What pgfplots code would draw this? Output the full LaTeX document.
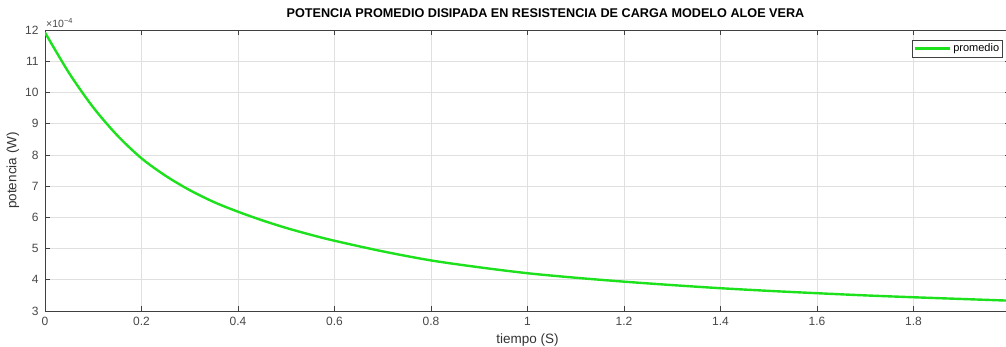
\documentclass[border=0pt]{standalone}
\usepackage{pgfplots}
\pgfplotsset{compat=1.18}
\usepackage{fontspec}
\setmainfont{Liberation Sans}
\definecolor{lineg}{RGB}{30,225,30}
\definecolor{axc}{RGB}{64,64,64}
\begin{document}
\begin{tikzpicture}
\useasboundingbox (-45bp,-36bp) rectangle (961bp,311bp);
\begin{axis}[
  name=ax,
  scale only axis,
  width=965bp, height=281bp,
  xmin=0, xmax=2, ymin=3, ymax=12,
  xtick={0,0.2,...,1.8},
  xticklabels={0,0.2,0.4,0.6,0.8,1,1.2,1.4,1.6,1.8},
  ytick={3,4,...,12},
  /pgf/number format/assume math mode=true,
  tick label style={font=\fontsize{12bp}{14bp}\selectfont, text=black!72},
  xticklabel style={yshift=-2.5bp},
  yticklabel style={xshift=-3bp},
  grid=major,
  major grid style={draw=black!12, line width=0.6bp},
  axis line style={draw=axc, line width=0.7bp},
  tick style={draw=axc, line width=0.7bp},
  major tick length=5bp,
  tick align=inside,
  xtick pos=both, ytick pos=both,
  title={\bfseries POTENCIA PROMEDIO DISIPADA EN RESISTENCIA DE CARGA MODELO ALOE VERA},
  title style={font=\fontsize{12.65bp}{15bp}\selectfont, at={(0.5,1)}, anchor=south, yshift=3bp, xshift=18bp},
  xlabel={tiempo (S)},
  ylabel={potencia (W)},
  label style={font=\fontsize{13.5bp}{15bp}\selectfont, text=black!80},
  xlabel style={yshift=-1bp},
  ylabel style={yshift=-1bp},
  legend style={at={(0.9927,0.964)}, anchor=north east, draw=axc, line width=0.6bp,
    font=\fontsize{11bp}{13bp}\selectfont, inner sep=1.5bp, row sep=0bp},
  legend cell align=left,
  legend image post style={line width=2.4bp},
  legend image code/.code={\draw[#1] (0cm,0cm) -- (1.23cm,0cm);},
  clip=true,
]
\addplot[color=lineg, line width=2.4bp, smooth] coordinates {
(0,11.92) (0.05,10.62) (0.1,9.52) (0.15,8.62) (0.2,7.89) (0.25,7.33) (0.3,6.87)
(0.35,6.49) (0.4,6.18) (0.45,5.905) (0.5,5.66) (0.55,5.445) (0.6,5.25)
(0.7,4.91) (0.8,4.62) (0.9,4.40) (1.0,4.21) (1.1,4.065) (1.2,3.94) (1.3,3.83)
(1.4,3.73) (1.5,3.645) (1.6,3.57) (1.7,3.50) (1.8,3.44) (1.9,3.385) (2.0,3.33)
};
\addlegendentry{promedio}
\end{axis}
\node[anchor=south west, inner sep=0pt, font=\fontsize{10.5bp}{12bp}\selectfont, text=black!72] at (ax.north west) [xshift=1bp, yshift=2.5bp]{×10\textsuperscript{−4}};
\end{tikzpicture}
\end{document}
